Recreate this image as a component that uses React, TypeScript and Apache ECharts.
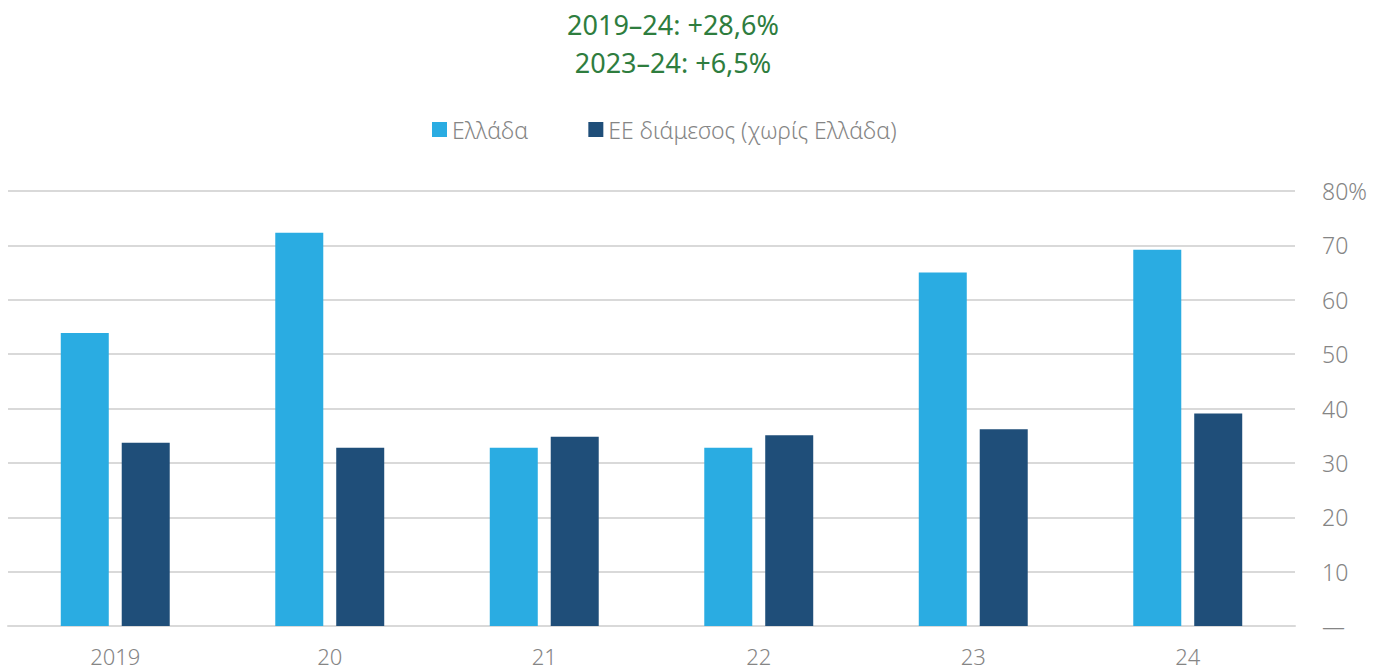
import React, { useEffect, useRef } from "react";
import * as echarts from "echarts";

const categories = ["2019", "20", "21", "22", "23", "24"];
const greece = [53.9, 72.3, 32.8, 32.8, 65.0, 69.2];
const euMedian = [33.7, 32.8, 34.8, 35.1, 36.2, 39.1];
const seriesNames = ["Ελλάδα", "ΕΕ διάμεσος (χωρίς Ελλάδα)"];
const titleLines = ["2019–24: +28,6%", "2023–24: +6,5%"];

const FONT = "'Noto Sans', 'Open Sans', sans-serif";
const GRAY = "#858585";

export default function App() {
  const ref = useRef<HTMLDivElement>(null);
  useEffect(() => {
    if (!ref.current) return;
    const chart = echarts.init(ref.current, undefined, { renderer: "svg" });
    chart.setOption({
      animation: false,
      backgroundColor: "#ffffff",
      textStyle: { fontFamily: FONT },
      graphic: [
        {
          type: "text",
          x: 673,
          y: 5,
          style: {
            text: titleLines.join("\n"),
            fill: "#2E7D3E",
            font: `27px ${FONT}`,
            lineHeight: 38,
            align: "center",
            textAlign: "center",
          },
        },
      ],
      legend: {
        top: 113,
        left: 427,
        icon: "rect",
        itemWidth: 15,
        itemHeight: 15,
        itemGap: 60,
        textStyle: { fontSize: 23, color: GRAY, fontFamily: FONT, fontWeight: 300 },
        data: seriesNames,
      },
      grid: { left: 8, right: 82, top: 191, bottom: 44, containLabel: false },
      xAxis: {
        type: "category",
        data: categories,
        axisLine: { show: true, lineStyle: { color: "#d9d9d9", width: 2 } },
        axisTick: { show: false },
        axisLabel: { color: GRAY, fontSize: 22, margin: 19, fontFamily: FONT, fontWeight: 300 },
      },
      yAxis: {
        type: "value",
        position: "right",
        min: 0,
        max: 80,
        interval: 10,
        axisLine: { show: false },
        axisTick: { show: false },
        splitLine: { lineStyle: { color: "#d9d9d9", width: 2 } },
        axisLabel: {
          color: GRAY,
          fontSize: 23,
          margin: 27,
          fontFamily: FONT,
          fontWeight: 300,
          formatter: (v: number) => (v === 0 ? "—" : v === 80 ? "80%" : String(v)),
        },
      },
      series: [
        {
          name: seriesNames[0],
          type: "bar",
          data: greece,
          barWidth: 48,
          barGap: "27%",
          itemStyle: { color: "#2AACE2" },
        },
        {
          name: seriesNames[1],
          type: "bar",
          data: euMedian,
          barWidth: 48,
          itemStyle: { color: "#1F4E79" },
        },
      ],
    });
    return () => chart.dispose();
  }, []);
  return <div ref={ref} style={{ width: 1377, height: 670, position: "absolute", left: 0, top: 0 }} />;
}
